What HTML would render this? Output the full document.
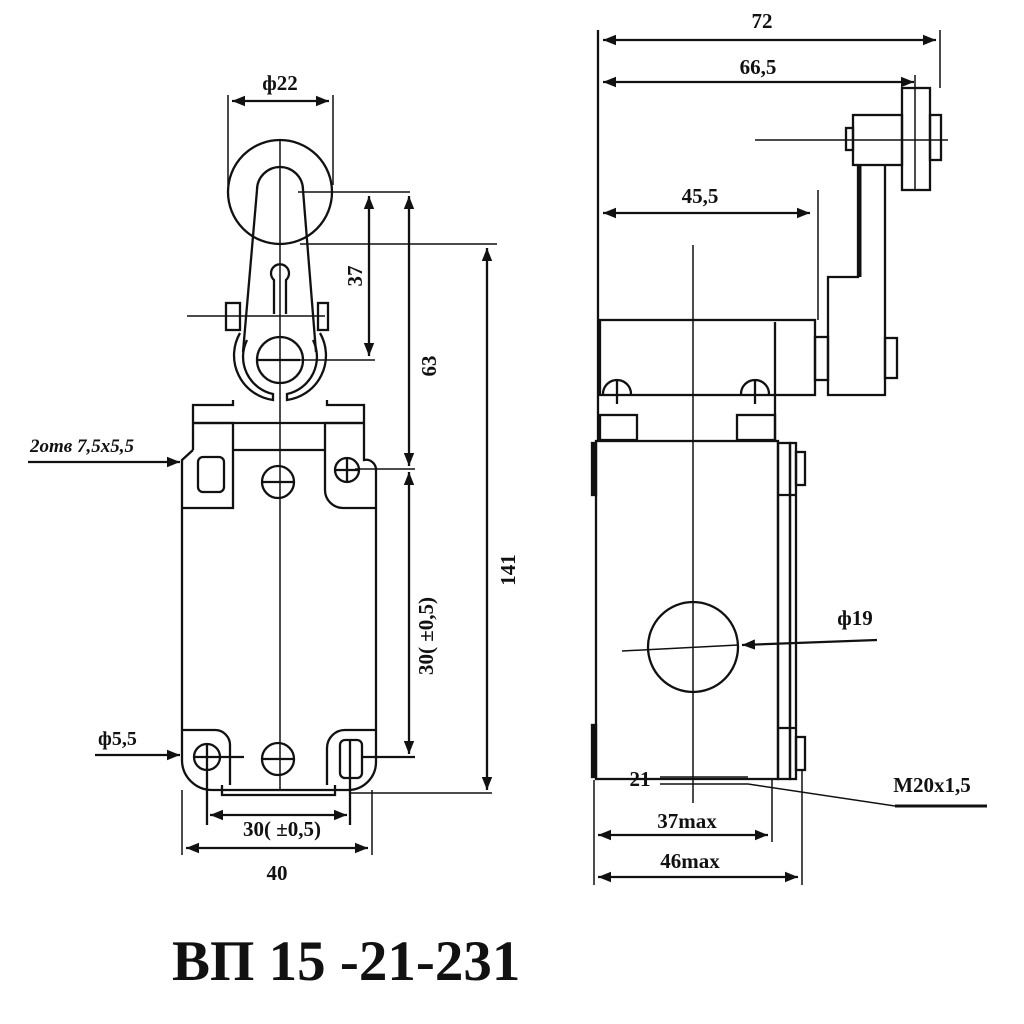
<!DOCTYPE html>
<html><head><meta charset="utf-8"><style>
html,body{margin:0;padding:0;background:#fff}
svg{display:block}
text{font-family:"Liberation Serif",serif;font-weight:bold;fill:#111}
</style></head><body>
<svg width="1024" height="1024" viewBox="0 0 1024 1024" xmlns="http://www.w3.org/2000/svg">
<defs>
<marker id="a" viewBox="0 0 10 10" refX="10" refY="5" markerWidth="13" markerHeight="13" markerUnits="userSpaceOnUse" orient="auto-start-reverse"><path d="M0,1 L10,5 L0,9 z" fill="#111"/></marker>
</defs>
<g stroke="#111" stroke-width="2.3" fill="none">
<!-- LEFT VIEW -->
<circle cx="280" cy="192" r="52"/>
<path d="M257,190 A23,23 0 1 1 303,190"/>
<line x1="257" y1="190" x2="243" y2="352"/>
<line x1="303" y1="190" x2="316" y2="352"/>
<path d="M274,314 L274,280 A9,9 0 1 1 286,280 L286,314"/>
<line x1="280" y1="140" x2="280" y2="790" stroke-width="1.5"/>
<rect x="226" y="303" width="14" height="27"/>
<rect x="318" y="303" width="10" height="27"/>
<line x1="187" y1="316" x2="325" y2="316" stroke-width="1.5"/>
<circle cx="280" cy="360" r="23"/>
<line x1="258" y1="360" x2="300" y2="360"/>
<path d="M240,333 A45,45 0 0 0 273,400 L273,394 A38,38 0 0 1 247,340"/>
<path d="M320,333 A45,45 0 0 1 287,400 L287,394 A38,38 0 0 0 313,340"/>
<path d="M233,400 L233,405 L193,405 L193,450 M327,400 L327,405 L364,405 L364,450"/>
<line x1="193" y1="423" x2="364" y2="423"/>
<path d="M193,423 L233,423 L233,450 M364,423 L325,423 L325,450"/>
<line x1="233" y1="450" x2="325" y2="450"/>
<path d="M193,450 L182,460 L182,760 A30,30 0 0 0 212,790 L348,790 A28,28 0 0 0 376,762 L376,470 A10,10 0 0 0 364,460 L364,450"/>
<path d="M325,450 L325,490 A18,18 0 0 0 343,508 L376,508"/>
<path d="M233,450 L233,508 L182,508"/>
<rect x="198" y="457" width="26" height="35" rx="5"/>
<circle cx="278" cy="482" r="16"/><line x1="262" y1="482" x2="294" y2="482"/>
<circle cx="347" cy="470" r="12"/><line x1="335" y1="470" x2="359" y2="470"/><line x1="347" y1="458" x2="347" y2="482"/>
<path d="M182,730 L215,730 A15,15 0 0 1 230,745 L230,785"/>
<path d="M376,730 L345,730 A18,18 0 0 0 327,748 L327,785"/>
<circle cx="207" cy="757" r="13"/><line x1="195" y1="757" x2="244" y2="757"/><line x1="207" y1="745" x2="207" y2="825"/>
<circle cx="278" cy="759" r="16"/><line x1="262" y1="759" x2="294" y2="759"/>
<rect x="340" y="740" width="22" height="38" rx="5"/><line x1="350" y1="740" x2="350" y2="825"/>
<line x1="362" y1="757" x2="415" y2="757"/>
<path d="M222,785 L222,795 L335,795 L335,785"/>
<line x1="350" y1="793" x2="492" y2="793" stroke-width="1.5"/>
<!-- left dims -->
<line x1="228" y1="95" x2="228" y2="185" stroke-width="1.5"/>
<line x1="333" y1="95" x2="333" y2="185" stroke-width="1.5"/>
<line x1="232" y1="101" x2="329" y2="101" marker-start="url(#a)" marker-end="url(#a)"/>
<line x1="298" y1="192" x2="410" y2="192" stroke-width="1.5"/>
<line x1="300" y1="244" x2="497" y2="244" stroke-width="1.5"/>
<line x1="300" y1="360" x2="375" y2="360" stroke-width="1.5"/>
<line x1="355" y1="469" x2="415" y2="469" stroke-width="1.5"/>
<line x1="369" y1="196" x2="369" y2="356" marker-start="url(#a)" marker-end="url(#a)"/>
<line x1="409" y1="196" x2="409" y2="466" marker-start="url(#a)" marker-end="url(#a)"/>
<line x1="409" y1="472" x2="409" y2="754" marker-start="url(#a)" marker-end="url(#a)"/>
<line x1="487" y1="248" x2="487" y2="790" marker-start="url(#a)" marker-end="url(#a)"/>
<line x1="182" y1="790" x2="182" y2="855" stroke-width="1.5"/>
<line x1="372" y1="790" x2="372" y2="855" stroke-width="1.5"/>
<line x1="210" y1="815" x2="347" y2="815" marker-start="url(#a)" marker-end="url(#a)"/>
<line x1="186" y1="848" x2="368" y2="848" marker-start="url(#a)" marker-end="url(#a)"/>
<line x1="28" y1="462" x2="180" y2="462" marker-end="url(#a)"/>
<line x1="95" y1="755" x2="180" y2="755" marker-end="url(#a)"/>
<!-- RIGHT VIEW -->
<line x1="598" y1="30" x2="598" y2="440"/>
<line x1="940" y1="30" x2="940" y2="88" stroke-width="1.5"/>
<line x1="603" y1="40" x2="936" y2="40" marker-start="url(#a)" marker-end="url(#a)"/>
<line x1="603" y1="82" x2="914" y2="82" marker-start="url(#a)" marker-end="url(#a)"/>
<line x1="818" y1="190" x2="818" y2="320" stroke-width="1.5"/>
<line x1="603" y1="213" x2="810" y2="213" marker-start="url(#a)" marker-end="url(#a)"/>
<rect x="902" y="88" width="28" height="102"/>
<line x1="915" y1="75" x2="915" y2="190" stroke-width="1.5"/>
<rect x="930" y="115" width="11" height="45"/>
<rect x="853" y="115" width="49" height="50"/>
<rect x="846" y="128" width="7" height="22"/>
<line x1="755" y1="140" x2="948" y2="140" stroke-width="1.5"/>
<path d="M858,165 L858,277 L828,277 L828,395 L885,395 L885,165" />
<line x1="860" y1="165" x2="860" y2="277" stroke-width="3"/>
<rect x="600" y="320" width="215" height="75"/>
<line x1="775" y1="322" x2="775" y2="440"/>
<rect x="815" y="337" width="13" height="43"/>
<rect x="885" y="338" width="12" height="40"/>
<path d="M603,394 A14,14 0 0 1 631,394"/><line x1="617" y1="380" x2="617" y2="404"/>
<path d="M741,394 A14,14 0 0 1 769,394"/><line x1="755" y1="380" x2="755" y2="404"/>
<rect x="600" y="415" width="37" height="25"/>
<rect x="737" y="415" width="38" height="25"/>
<rect x="596" y="441" width="182" height="338"/>
<rect x="778" y="443" width="12" height="336"/>
<rect x="790" y="443" width="6" height="336"/>
<line x1="778" y1="495" x2="796" y2="495"/>
<line x1="778" y1="728" x2="796" y2="728"/>
<rect x="796" y="452" width="9" height="33"/>
<rect x="796" y="737" width="9" height="33"/>
<rect x="592" y="443" width="4" height="52" fill="#111"/>
<rect x="592" y="725" width="4" height="52" fill="#111"/>
<circle cx="693" cy="647" r="45"/>
<line x1="693" y1="245" x2="693" y2="803" stroke-width="1.5"/>
<line x1="622" y1="651" x2="738" y2="645" stroke-width="1.5"/>
<line x1="877" y1="640" x2="742" y2="645" marker-end="url(#a)"/>
<line x1="660" y1="777" x2="748" y2="777" stroke-width="1.5"/>
<line x1="660" y1="784" x2="748" y2="784" stroke-width="1.5"/>
<line x1="748" y1="784" x2="895" y2="806" stroke-width="1.5"/>
<line x1="895" y1="806" x2="987" y2="806" stroke-width="3"/>
<line x1="594" y1="780" x2="594" y2="885" stroke-width="1.5"/>
<line x1="772" y1="780" x2="772" y2="842" stroke-width="1.5"/>
<line x1="802" y1="770" x2="802" y2="885" stroke-width="1.5"/>
<line x1="598" y1="835" x2="768" y2="835" marker-start="url(#a)" marker-end="url(#a)"/>
<line x1="598" y1="877" x2="798" y2="877" marker-start="url(#a)" marker-end="url(#a)"/>
</g>
<!-- texts -->
<text x="280" y="90" font-size="21" text-anchor="middle">ф22</text>
<text x="357" y="276" font-size="21" text-anchor="middle" transform="rotate(-90 357 276)" dominant-baseline="middle">37</text>
<text x="431" y="366" font-size="21" text-anchor="middle" transform="rotate(-90 431 366)" dominant-baseline="middle">63</text>
<text x="428" y="636" font-size="21" text-anchor="middle" transform="rotate(-90 428 636)" dominant-baseline="middle">30( ±0,5)</text>
<text x="510" y="570" font-size="21" text-anchor="middle" transform="rotate(-90 510 570)" dominant-baseline="middle">141</text>
<text x="30" y="452" font-size="19" font-style="italic">2отв 7,5х5,5</text>
<text x="98" y="745" font-size="20">ф5,5</text>
<text x="282" y="836" font-size="21" text-anchor="middle">30( ±0,5)</text>
<text x="277" y="880" font-size="21" text-anchor="middle">40</text>
<text x="762" y="28" font-size="21" text-anchor="middle">72</text>
<text x="758" y="74" font-size="21" text-anchor="middle">66,5</text>
<text x="700" y="203" font-size="21" text-anchor="middle">45,5</text>
<text x="855" y="625" font-size="21" text-anchor="middle">ф19</text>
<text x="640" y="786" font-size="21" text-anchor="middle">21</text>
<text x="932" y="792" font-size="21" text-anchor="middle">M20x1,5</text>
<text x="687" y="828" font-size="21" text-anchor="middle">37max</text>
<text x="690" y="868" font-size="21" text-anchor="middle">46max</text>
<text x="172" y="980" font-size="57">ВП 15 -21-231</text>
</svg>
</body></html>
